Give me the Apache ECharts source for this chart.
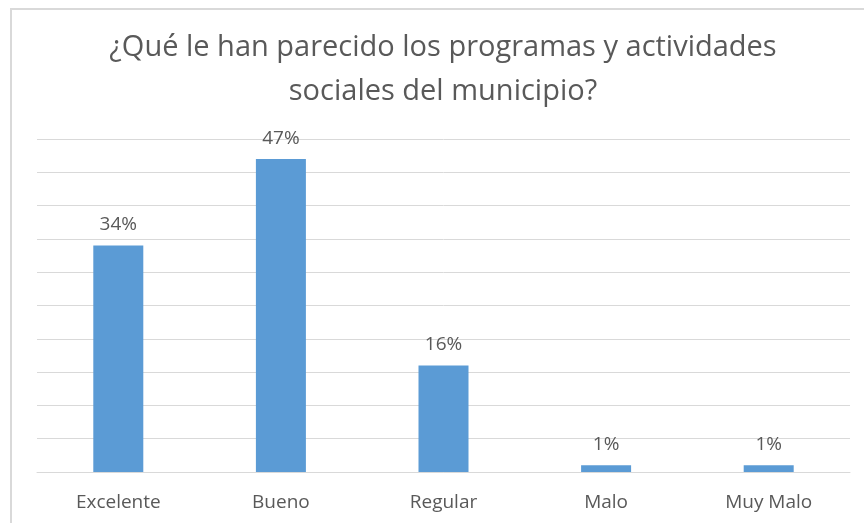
<!DOCTYPE html>
<html>
<head>
<meta charset="utf-8">
<script src="https://cdn.jsdelivr.net/npm/echarts@6/dist/echarts.min.js"></script>
<style>
  html, body { margin: 0; padding: 0; background: #fff; }
  #chart { width: 864px; height: 523px; }
</style>
</head>
<body>
<div id="chart"></div>
<script>
const categories = ["Excelente", "Bueno", "Regular", "Malo", "Muy Malo"];
const percents = [34, 47, 16, 1, 1];
const titleText = "¿Qué le han parecido los programas y actividades\nsociales del municipio?";

const chart = echarts.init(document.getElementById("chart"));
chart.setOption({
  animation: false,
  textStyle: { fontFamily: "Open Sans" },
  title: {
    text: titleText,
    left: 438,
    top: 21,
    textAlign: "center",
    textStyle: { fontFamily: "Open Sans", fontSize: 29, fontWeight: "normal", color: "#595959", lineHeight: 44 }
  },
  graphic: [{
    type: "rect",
    shape: { x: 11, y: 9, width: 900, height: 600 },
    style: { fill: "none", stroke: "#d9d9d9", lineWidth: 2 },
    silent: true
  }],
  grid: { left: 37, right: 14, top: 139, bottom: 51, containLabel: false },
  xAxis: {
    type: "category",
    data: categories,
    axisLine: { lineStyle: { color: "#d9d9d9", width: 1 } },
    axisTick: { show: false },
    axisLabel: { color: "#595959", fontSize: 19, margin: 21 }
  },
  yAxis: {
    type: "value",
    min: 0,
    max: 50,
    interval: 5,
    axisLabel: { show: false },
    axisLine: { show: false },
    axisTick: { show: false },
    splitLine: { lineStyle: { color: "#d9d9d9", width: 1 } }
  },
  series: [{
    type: "bar",
    data: percents,
    barWidth: 50,
    itemStyle: { color: "#5b9bd5" },
    label: {
      show: true,
      position: "top",
      distance: 11,
      formatter: "{c}%",
      color: "#595959",
      fontSize: 19
    }
  }]
});
</script>
</body>
</html>
